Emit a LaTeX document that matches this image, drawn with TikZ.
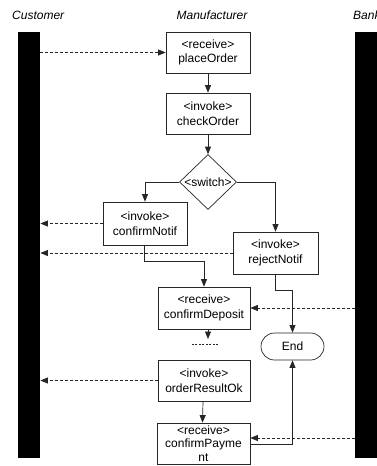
\documentclass[tikz,border=0pt]{standalone}
\usepackage{fontspec}
\setmainfont{Liberation Sans}
\usetikzlibrary{arrows.meta,shapes.geometric}
\begin{document}
\begin{tikzpicture}[x=1pt,y=-1pt,
  box/.style={draw=black!85, line width=0.7pt, fill=white, inner sep=0pt,
    minimum width=84pt, minimum height=42pt, align=center,
    font=\fontsize{12}{14.5}\selectfont},
  title/.style={font=\fontsize{12}{14}\selectfont\itshape, inner sep=0pt},
  lane/.style={fill=black, draw=none, inner sep=0pt, minimum width=22pt,
    minimum height=426pt, anchor=north west},
  flow/.style={draw=black!85, line width=0.7pt, -{Triangle[length=7.5pt,width=6pt]}},
  msg/.style={flow, dash pattern=on 3pt off 2pt},
  txt/.style={font=\fontsize{12}{14.5}\selectfont, inner sep=0pt}]
\useasboundingbox (0,0) rectangle (377,466);
\clip (0,0) rectangle (377,466);

% titles
\node[title, anchor=west] (cust) at (12,15) {Customer};
\node[title] (manu) at (212,15) {Manufacturer};
\node[title, anchor=west] (bank) at (353,15) {Bank};

% lanes
\node[lane] (cbar) at (18,32) {};
\node[lane] (bbar) at (355,32) {};

% activities
\node[box, minimum height=41pt] (po) at (208,52.5) {<receive>\\placeOrder};
\node[box, minimum height=41pt] (co) at (208,113.5) {<invoke>\\checkOrder};
\node[diamond, draw=black!85, line width=0.7pt, fill=white, inner sep=0pt,
      minimum width=57pt, minimum height=55pt] (sw) at (208,182) {};
\node[txt] (swt) at (sw) {<switch>};
\node[box, minimum height=43pt] (cn) at (145,223.5) {<invoke>\\confirmNotif};
\node[box, minimum width=85pt] (rn) at (275.5,253) {<invoke>\\rejectNotif};
\node[box, minimum width=92pt] (cd) at (204,308) {<receive>\\confirmDeposit};
\node[minimum width=26pt, minimum height=2pt, inner sep=0pt] (dots) at (205,344) {};
\node[box, minimum width=92pt, minimum height=41pt] (or) at (204,380.5) {<invoke>\\orderResultOk};
\node[box, minimum width=93pt, minimum height=41pt,
      font=\fontsize{12}{13.5}\selectfont] (cp) at (203.5,443.5) {<receive>\\confirmPayme\\nt};
\node[draw=black!85, line width=0.7pt, fill=white, rounded corners=13.5pt,
      minimum width=63pt, minimum height=27pt, inner sep=0pt,
      font=\fontsize{12}{14}\selectfont] (end) at (292.5,346.5) {End};

% free end of the arrow under confirmDeposit
\coordinate (dtip) at (208,339);

% control flow
\draw[flow] (po.south) -- (co.north);
\draw[flow] (co.south) -- (sw.north);
\draw[flow] (sw.west) -| (cn.north);
\draw[flow] (sw.east) -| (rn.north);
\draw[flow] ([xshift=-1pt]cn.south) -- ++(0,15.5) -| (cd.north);
\draw[flow] ([xshift=-0.5pt]rn.south) -- ++(0,16) -| (end.north);
\draw[flow] (cd.south -| dtip) -- (dtip);
\draw[draw=black!85, line width=1pt, dash pattern=on 2pt off 1.5pt] (dots.west) -- (dots.east);
\draw[flow] ([xshift=-1pt]or.south) -- ([xshift=-1pt]cp.north);
\draw[flow] ([yshift=-0.5pt]cp.east) -| (end.south);

% messages
\draw[msg] (cbar.east |- po.west) -- (po.west);
\draw[msg] (cn.west) -- (cbar.east |- cn.west);
\draw[msg] (rn.west) -- (cbar.east |- rn.west);
\draw[msg] (bbar.west |- cd.east) -- (cd.east);
\draw[msg] (or.west) -- (cbar.east |- or.west);
\draw[msg] (bbar.west |- 0,438) -- ([yshift=5.5pt]cp.east);
\end{tikzpicture}
\end{document}
